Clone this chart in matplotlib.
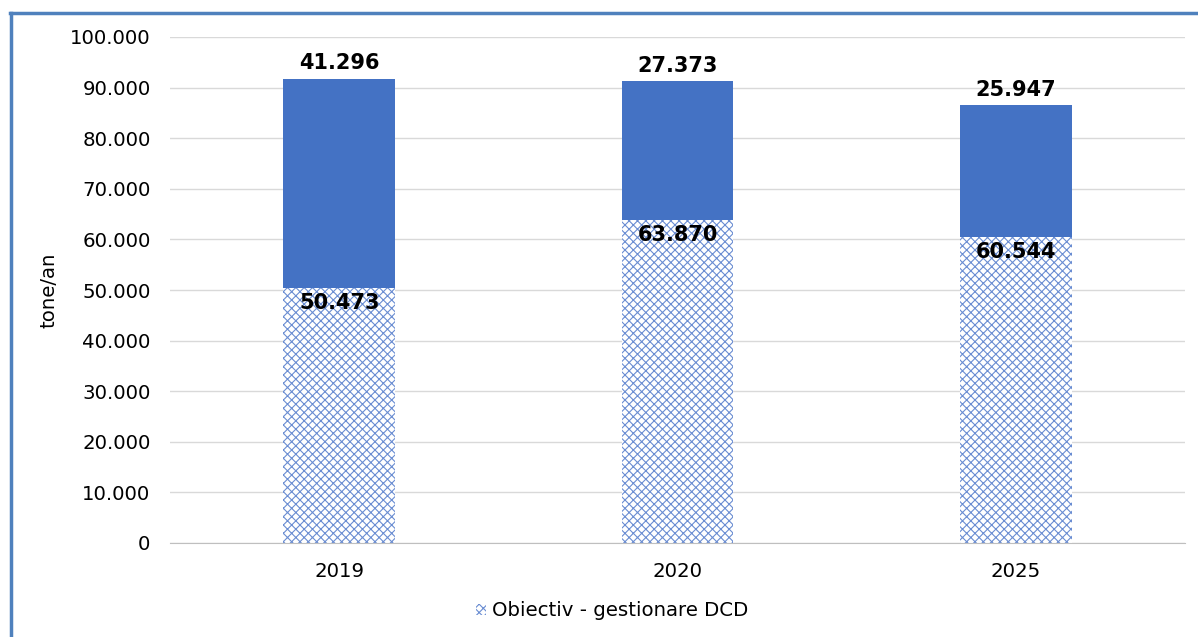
import matplotlib
matplotlib.use("Agg")
import matplotlib.pyplot as plt
from matplotlib.lines import Line2D
from matplotlib.patches import Patch

categories = ["2019", "2020", "2025"]
obiectiv = [50473, 63870, 60544]
rest = [41296, 27373, 25947]
yticks = [0, 10000, 20000, 30000, 40000, 50000, 60000, 70000, 80000, 90000, 100000]

def fmt(v):
    return f"{v:,.0f}".replace(",", ".")

plt.rcParams['font.family'] = ['DejaVu Sans']
plt.rcParams['hatch.linewidth'] = 0.8
blue = "#4472C4"
hatch_col = "#6A8DD2"
fs = 14.2

fig = plt.figure(figsize=(11.98, 6.37), dpi=100)
ax = fig.add_axes([170/1198, 1 - 543/637, 1015/1198, (543 - 37)/637])

x = range(len(categories))
ax.bar(x, obiectiv, width=0.33, color="white", edgecolor=hatch_col, hatch="xxxx", linewidth=0, zorder=2)
ax.bar(x, rest, width=0.33, bottom=obiectiv, color=blue, linewidth=0, zorder=2)

for i in x:
    ax.annotate(fmt(obiectiv[i]), (i, obiectiv[i]), xytext=(0, -11), textcoords="offset points",
                ha="center", va="center", fontsize=15, fontweight="bold", color="black", zorder=5)
    ax.annotate(fmt(rest[i]), (i, obiectiv[i] + rest[i]), xytext=(0, 11), textcoords="offset points",
                ha="center", va="center", fontsize=15, fontweight="bold", color="black", zorder=5)

ax.set_xlim(-0.5, 2.5)
ax.set_ylim(0, 100000)
ax.set_yticks(yticks)
ax.set_yticklabels([fmt(v) for v in yticks], fontsize=fs)
ax.set_xticks(list(x))
ax.set_xticklabels(categories, fontsize=fs)
ax.tick_params(axis="y", length=0, pad=14)
ax.tick_params(axis="x", length=0, pad=14)
ax.grid(axis="y", color="#D9D9D9", linewidth=1)
ax.set_axisbelow(True)
for s in ["top", "right", "left"]:
    ax.spines[s].set_visible(False)
ax.spines["bottom"].set_color("#BFBFBF")
ax.set_ylabel("tone/an", fontsize=fs, labelpad=8)

handle = Patch(facecolor="white", edgecolor=hatch_col, hatch="xxxx", linewidth=0)
fig.legend([handle], ["Obiectiv - gestionare DCD"], loc="center", bbox_to_anchor=(612/1198, 1 - 611/637),
           frameon=False, fontsize=fs, handlelength=0.5, handleheight=0.5, handletextpad=0.3)

# outer frame lines (top and left)
fig.add_artist(Line2D([10/1198, 1], [1 - 13/637, 1 - 13/637], color="#4F81BD", linewidth=2.5, transform=fig.transFigure))
fig.add_artist(Line2D([11/1198, 11/1198], [0, 1 - 13/637], color="#4F81BD", linewidth=2.5, transform=fig.transFigure))

fig.savefig("out.png", dpi=100)
